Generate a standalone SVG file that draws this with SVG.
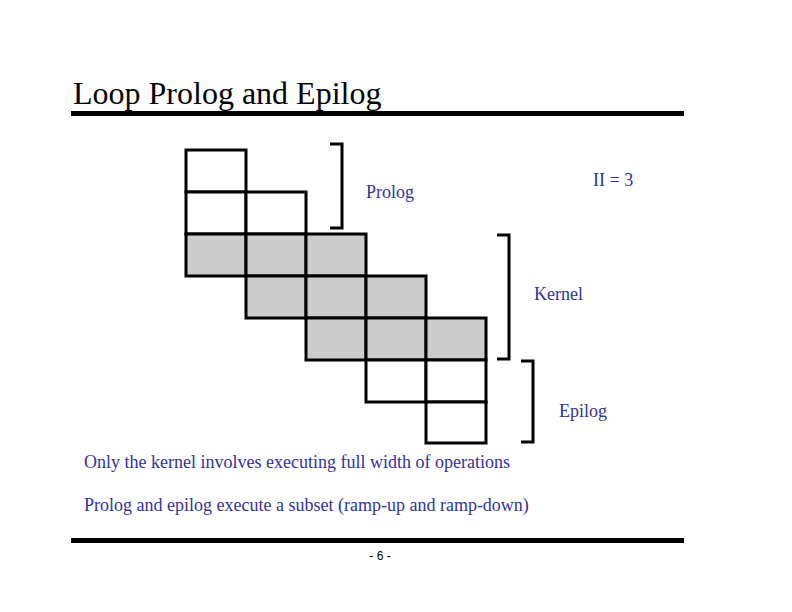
<svg xmlns="http://www.w3.org/2000/svg" width="792" height="612" viewBox="0 0 792 612">
<style>
.cell{stroke:#000;stroke-width:3;}
.w{fill:#fff;}
.g{fill:#cccccc;}
.br{fill:none;stroke:#000;stroke-width:3;}
.lbl{font-family:"Liberation Serif","Times New Roman",serif;font-size:18px;fill:#333399;}
.rule{fill:#000;}
</style>
<rect width="792" height="612" fill="#fff"/>
<text x="73" y="104" font-family="'Liberation Serif', 'Times New Roman', serif" font-size="32" fill="#000">Loop Prolog and Epilog</text>
<rect class="rule" x="71" y="111" width="613" height="5"/>
<g id="grid">
<rect class="cell w" x="186" y="150" width="60" height="42"/>
<rect class="cell w" x="186" y="192" width="60" height="42"/>
<rect class="cell w" x="246" y="192" width="60" height="42"/>
<rect class="cell g" x="186" y="234" width="60" height="42"/>
<rect class="cell g" x="246" y="234" width="60" height="42"/>
<rect class="cell g" x="306" y="234" width="60" height="42"/>
<rect class="cell g" x="246" y="276" width="60" height="42"/>
<rect class="cell g" x="306" y="276" width="60" height="42"/>
<rect class="cell g" x="366" y="276" width="60" height="42"/>
<rect class="cell g" x="306" y="318" width="60" height="42"/>
<rect class="cell g" x="366" y="318" width="60" height="42"/>
<rect class="cell g" x="426" y="318" width="60" height="42"/>
<rect class="cell w" x="366" y="360" width="60" height="42"/>
<rect class="cell w" x="426" y="360" width="60" height="42"/>
<rect class="cell w" x="426" y="402" width="60" height="41"/>
</g>
<g id="connectors">
<path id="prolog-bracket" class="br" d="M330,144 H342 V228 H330"/>
<path id="kernel-bracket" class="br" d="M497,235 H509 V359 H497"/>
<path id="epilog-bracket" class="br" d="M521,361 H533 V442 H521"/>
</g>
<g id="labels">
<text class="lbl" x="366" y="198">Prolog</text>
<text class="lbl" x="593" y="186">II = 3</text>
<text class="lbl" x="534" y="300">Kernel</text>
<text class="lbl" x="559" y="417">Epilog</text>
</g>
<text class="lbl" x="84" y="468">Only the kernel involves executing full width of operations</text>
<text class="lbl" x="84" y="511">Prolog and epilog execute a subset (ramp-up and ramp-down)</text>
<rect class="rule" x="71" y="538" width="613" height="5"/>
<text x="380" y="560" font-family="'Liberation Sans', Arial, sans-serif" font-size="12" fill="#000" text-anchor="middle">- 6 -</text>
</svg>
